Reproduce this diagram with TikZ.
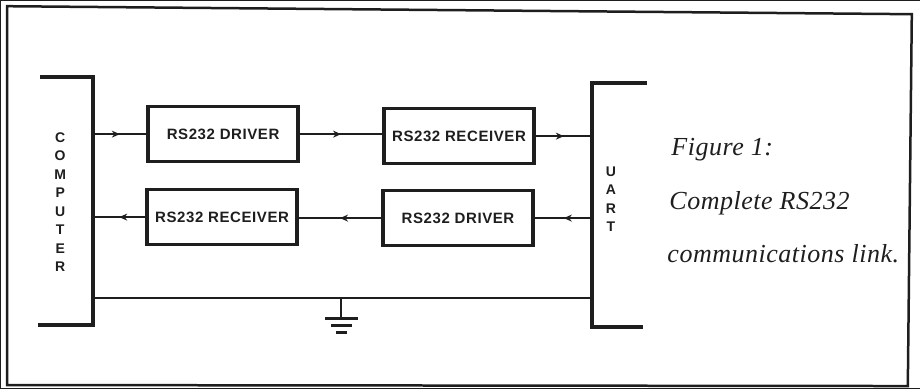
\documentclass[tikz,border=0pt]{standalone}
\usepackage{fontspec}
\setmainfont{Liberation Serif}
\setsansfont{Liberation Sans}
\usetikzlibrary{arrows.meta,decorations.markings}
\definecolor{ink}{HTML}{1E1E1E}
\begin{document}
\begin{tikzpicture}[x=1pt,y=-1pt,
  every path/.style={draw=ink},
  blk/.style={draw=ink, line width=3.5pt, minimum width=150pt, minimum height=55pt, inner sep=0pt,
    text=ink, font=\sffamily\bfseries\fontsize{15}{18}\selectfont\addfontfeature{LetterSpace=4}},
  bus/.style={draw=ink, line width=4pt, line cap=butt, line join=miter},
  wire/.style={draw=ink, line width=1.8pt, postaction={decorate},
    decoration={markings, mark=at position 0.5 with {\arrow[ink]{Stealth[length=8pt,width=7pt]}}}},
  vlet/.style={align=center, text=ink, font=\sffamily\bfseries\fontsize{14}{18.5}\selectfont},
  capt/.style={anchor=base west, text=ink, font=\itshape\fontsize{26}{30}\selectfont\addfontfeature{LetterSpace=2}},
  gbar/.style={draw=ink, line width=3pt}
]
\useasboundingbox (0,0) rectangle (920,388);
% outer frame
\draw[line width=2.5pt] (7,6) -- (912,14) -- (908,386) -- (7,385) -- cycle;

% brackets
\draw[bus] (40,77) -- (93,77) -- (93,325) -- (38,325);
\draw[bus] (647,83) -- (592,83) -- (592,327) -- (643,327);

\coordinate (c1) at (93,134);
\coordinate (c2) at (93,217);
\coordinate (u1) at (592,134);
\coordinate (u2) at (592,217);
\coordinate (g1) at (93,298);
\coordinate (g2) at (592,298);
\coordinate (gnd) at (341,298);
\coordinate (gb) at (341,318);

% boxes
\node[blk] (drv1) at (223,134) {RS232 DRIVER};
\node[blk] (rcv1) at (459,136) {RS232 RECEIVER};
\node[blk] (rcv2) at (222,217) {RS232 RECEIVER};
\node[blk] (drv2) at (458,218) {RS232 DRIVER};

% connectors
\draw[wire] (c1) -- (drv1.west);
\draw[wire] (drv1.east) -- (drv1.east -| rcv1.west);
\draw[wire] (rcv1.east) -- (rcv1.east -| u1);
\draw[wire] (u2) -- (u2 |- drv2.east) -- (drv2.east);
\draw[wire] (drv2.west) -- (drv2.west -| rcv2.east);
\draw[wire] (rcv2.west) -- (rcv2.west -| c2);

% ground
\draw[line width=1.8pt] (g1) -- (g2);
\draw[line width=1.8pt] (gnd) -- (gb);
\draw[gbar] (325,318) -- (358,318);
\draw[gbar] (331,325) -- (352,325);
\draw[gbar] (336,332) -- (347,332);

% vertical labels
\node[vlet] (comp) at (60,202) {C\\O\\M\\P\\U\\T\\E\\R};
\node[vlet] (uart) at (611,199) {U\\A\\R\\T};

% caption
\node[capt] (cap1) at (668,155) {Figure 1:};
\node[capt] (cap2) at (666,209) {Complete RS232};
\node[capt] (cap3) at (664,262) {communications link.};
\end{tikzpicture}
\end{document}
